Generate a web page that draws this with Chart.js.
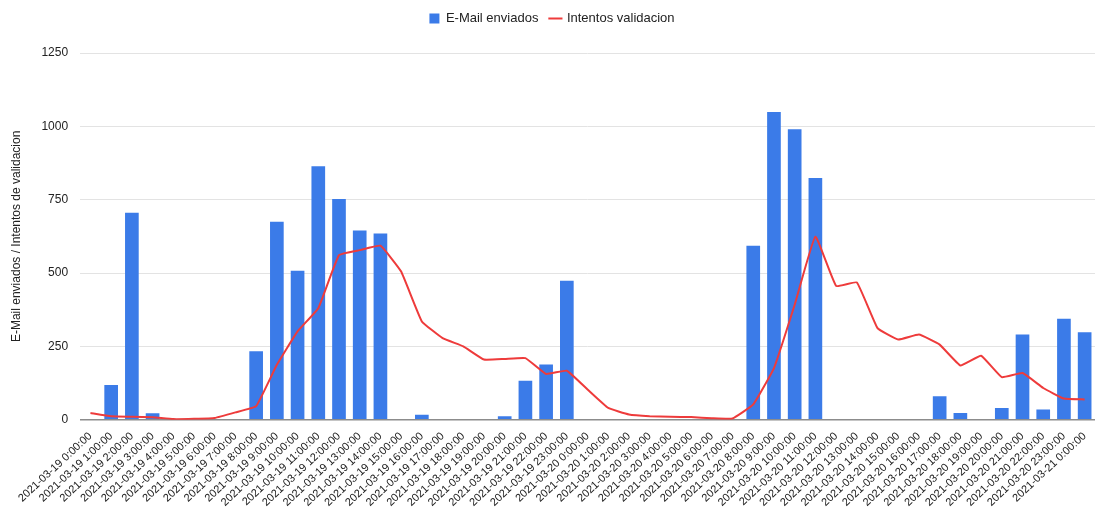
<!DOCTYPE html>
<html>
<head>
<meta charset="utf-8">
<script src="https://cdn.jsdelivr.net/npm/chart.js@4.4.1/dist/chart.umd.min.js"></script>
<style>
  html, body { margin: 0; padding: 0; background: #fff; }
  #wrap { width: 1101px; height: 515px; }
</style>
</head>
<body>
<div id="wrap"><canvas id="c" width="1101" height="515"></canvas></div>
<script>
// Hourly categories
const categories = [
  "2021-03-19 0:00:00", "2021-03-19 1:00:00", "2021-03-19 2:00:00", "2021-03-19 3:00:00",
  "2021-03-19 4:00:00", "2021-03-19 5:00:00", "2021-03-19 6:00:00", "2021-03-19 7:00:00",
  "2021-03-19 8:00:00", "2021-03-19 9:00:00", "2021-03-19 10:00:00", "2021-03-19 11:00:00",
  "2021-03-19 12:00:00", "2021-03-19 13:00:00", "2021-03-19 14:00:00", "2021-03-19 15:00:00",
  "2021-03-19 16:00:00", "2021-03-19 17:00:00", "2021-03-19 18:00:00", "2021-03-19 19:00:00",
  "2021-03-19 20:00:00", "2021-03-19 21:00:00", "2021-03-19 22:00:00", "2021-03-19 23:00:00",
  "2021-03-20 0:00:00", "2021-03-20 1:00:00", "2021-03-20 2:00:00", "2021-03-20 3:00:00",
  "2021-03-20 4:00:00", "2021-03-20 5:00:00", "2021-03-20 6:00:00", "2021-03-20 7:00:00",
  "2021-03-20 8:00:00", "2021-03-20 9:00:00", "2021-03-20 10:00:00", "2021-03-20 11:00:00",
  "2021-03-20 12:00:00", "2021-03-20 13:00:00", "2021-03-20 14:00:00", "2021-03-20 15:00:00",
  "2021-03-20 16:00:00", "2021-03-20 17:00:00", "2021-03-20 18:00:00", "2021-03-20 19:00:00",
  "2021-03-20 20:00:00", "2021-03-20 21:00:00", "2021-03-20 22:00:00", "2021-03-20 23:00:00",
  "2021-03-21 0:00:00"
];

// E-Mail enviados per hour
const emailsSent = [
  0, 118, 705, 22, 0, 0, 0, 0,
  233, 675, 508, 864, 752, 645, 635, 0,
  17, 2, 0, 0, 12, 133, 188, 474,
  0, 0, 0, 0, 0, 0, 0, 0,
  593, 1049, 990, 824, 0, 0, 0, 0,
  2, 80, 23, 0, 40, 290, 35, 344,
  298
];

// Intentos validacion per hour
const validationAttempts = [
  23, 12, 10, 8, 2, 3, 6, 25,
  46, 187, 301, 380, 561, 578, 593, 505,
  335, 278, 250, 205, 207, 210, 156, 167,
  103, 40, 18, 12, 10, 9, 5, 4,
  52, 176, 392, 624, 456, 468, 312, 273,
  290, 256, 185, 218, 145, 159, 108, 72,
  69
];

// Y axis ticks
const yTicks = [0, 250, 500, 750, 1000, 1250];

const FONT = "'Liberation Sans', Arial, sans-serif";

// Extra space between the legend and the plot area
const legendGap = {
  id: 'legendGap',
  beforeInit(chart) {
    const origFit = chart.legend.fit;
    chart.legend.fit = function () {
      origFit.bind(chart.legend)();
      this.height += 18;
    };
  }
};

new Chart(document.getElementById('c'), {
  data: {
    labels: categories,
    datasets: [
      {
        type: 'bar',
        label: 'E-Mail enviados',
        data: emailsSent,
        backgroundColor: '#3b7be8',
        borderWidth: 0,
        barPercentage: 0.66,
        categoryPercentage: 1.0,
        pointStyle: 'rect',
        order: 1
      },
      {
        type: 'line',
        label: 'Intentos validacion',
        data: validationAttempts,
        borderColor: '#ee3b3b',
        backgroundColor: '#ee3b3b',
        borderWidth: 2,
        pointRadius: 0,
        pointHoverRadius: 0,
        tension: 0.1,
        fill: false,
        pointStyle: 'line',
        order: 0
      }
    ]
  },
  plugins: [legendGap],
  options: {
    responsive: false,
    animation: false,
    layout: { padding: { top: 0, left: 9, right: 6, bottom: 4 } },
    plugins: {
      tooltip: { enabled: false },
      legend: {
        position: 'top',
        labels: {
          usePointStyle: true,
          boxWidth: 10,
          boxHeight: 10,
          padding: 12,
          color: '#222',
          font: { family: FONT, size: 13 },
          sort: (a, b) => a.datasetIndex - b.datasetIndex
        }
      }
    },
    scales: {
      x: {
        offset: true,
        grid: { display: false },
        border: { display: false },
        ticks: {
          autoSkip: false,
          minRotation: 43,
          maxRotation: 43,
          padding: 2,
          color: '#222',
          font: { family: FONT, size: 11 }
        }
      },
      y: {
        min: 0,
        max: 1250,
        afterBuildTicks: (axis) => { axis.ticks = yTicks.map(v => ({ value: v })); },
        border: { display: false },
        grid: {
          color: (ctx) => (ctx.tick && ctx.tick.value === 0) ? '#8c8c8c' : '#e3e3e3',
          lineWidth: (ctx) => (ctx.tick && ctx.tick.value === 0) ? 1.5 : 1,
          drawTicks: false
        },
        ticks: {
          padding: 12,
          color: '#222',
          font: { family: FONT, size: 12 },
          callback: (v) => String(v)
        },
        title: {
          display: true,
          text: 'E-Mail enviados / Intentos de validacion',
          color: '#222',
          font: { family: FONT, size: 12 },
          padding: { top: 0, bottom: 6 }
        }
      }
    }
  }
});
</script>
</body>
</html>
